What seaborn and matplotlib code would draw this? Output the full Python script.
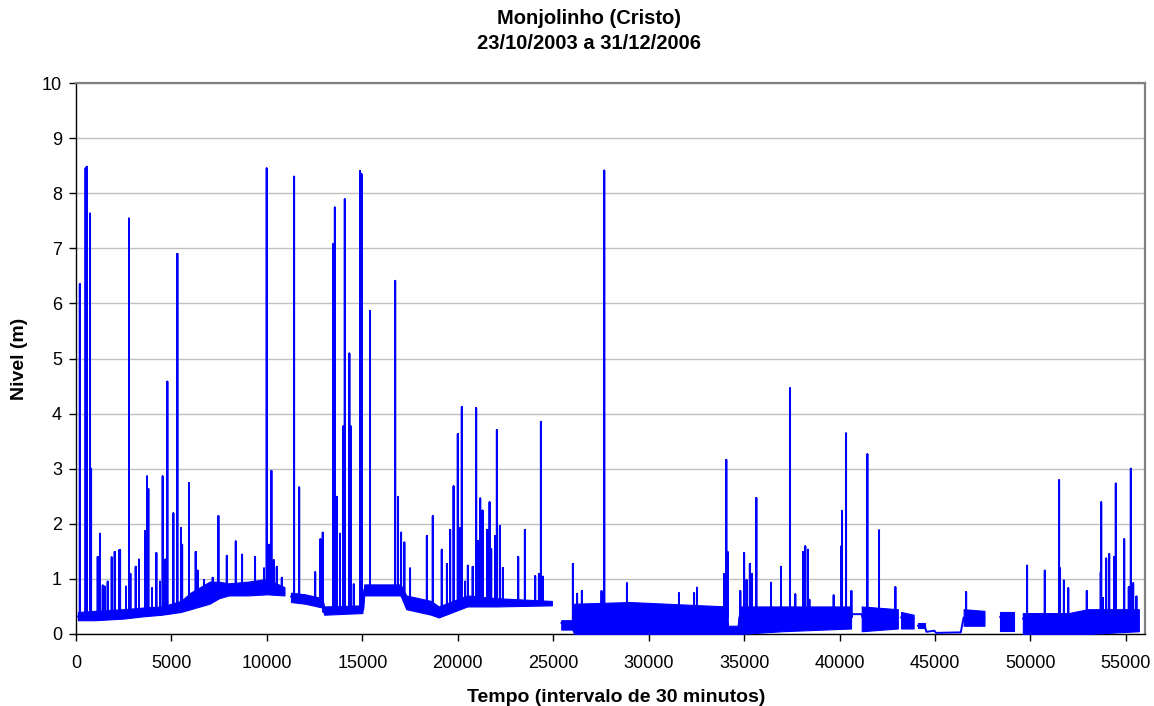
import numpy as np
import pandas as pd
import matplotlib
matplotlib.use("Agg")
import matplotlib.pyplot as plt
import seaborn as sns

# ---------------- data ----------------
# baseline knots of each continuous record (x = time step, y = level in m)
base1_x = [100, 2500, 3500, 4500, 5500, 6000, 6500, 7000, 7500, 8000, 9000, 10000, 10920]
base1_y = [0.32, 0.35, 0.38, 0.42, 0.48, 0.55, 0.65, 0.70, 0.78, 0.80, 0.80, 0.85, 0.75]
base2_x = [11260, 12000, 12900, 12950, 13000, 15000, 15050, 15100, 17000, 17300, 18600, 19000, 20000, 20500, 22000, 24930]
base2_y = [0.68, 0.65, 0.55, 0.40, 0.42, 0.45, 0.45, 0.80, 0.80, 0.60, 0.45, 0.40, 0.55, 0.60, 0.58, 0.56]
base3_x = [25420, 26000, 26100, 34100, 34150, 34700, 34750, 40600, 40650, 41160, 41200, 43050]
base3_y = [0.20, 0.20, 0.30, 0.30, 0.08, 0.08, 0.30, 0.30, 0.36, 0.36, 0.30, 0.30]
base4_x = [43220, 43880]
base4_y = [0.30, 0.28]
base5_x = [44100, 44460, 44550, 44970, 45050, 46350, 46500, 47590]
base5_y = [0.15, 0.15, 0.04, 0.06, 0.02, 0.03, 0.30, 0.30]
base6_x = [48430, 49120]
base6_y = [0.30, 0.30]
base7_x = [49600, 53000, 55677]
base7_y = [0.28, 0.30, 0.27]

# flood spikes: position, foot level and peak level
spike_x = [200, 500, 560, 734, 790, 1136, 1258, 1400, 1503, 1660, 1870, 2027, 2270, 2310, 2620, 2777, 2850, 3127,
           3300, 3616, 3720, 3790, 3983, 4210, 4400, 4540, 4680, 4786, 5100, 5310, 5500, 5560, 5920, 6270, 6375,
           6710, 7160, 7460, 7900, 8370, 8700, 9380, 9850, 9990, 10114, 10237, 10360, 10516, 10780,
           11425, 11690, 12530, 12800, 12925, 13480, 13560, 13660, 13830, 14010, 14080, 14320, 14390, 14550, 14880,
           14920, 14970, 15400, 16720, 16870, 17030, 17200, 17500, 18380, 18690, 19160, 19430, 19600, 19780, 20000,
           20100, 20210, 20380, 20527, 20780, 20963, 21050, 21175, 21297, 21540, 21664, 21750, 21960, 22047, 22205,
           22362, 23165, 23514, 24055, 24250, 24354, 24460,
           26030, 26250, 26500, 27530, 27672, 28861, 31586, 32380, 32530, 33962, 34067, 34130, 34800, 35000, 35130,
           35300, 35400, 35640, 36410, 36930, 37405, 37680, 38083, 38205, 38345, 38420, 39690, 40090, 40130, 40340,
           40620, 41456, 42068, 42924,
           46630,
           49823, 50750, 51500, 51550, 51750, 51980, 52950, 53680, 53705, 53800, 53966, 54124, 54380, 54470, 54910,
           55150, 55257, 55380, 55550]
spike_base = [0.32, 0.32, 0.32, 0.32, 0.32, 0.32, 0.32, 0.32, 0.32, 0.32, 0.33, 0.33, 0.34, 0.34, 0.35, 0.35, 0.35, 0.36,
              0.37, 0.38, 0.38, 0.38, 0.39, 0.40, 0.41, 0.42, 0.43, 0.43, 0.45, 0.46, 0.48, 0.48, 0.53, 0.58, 0.59,
              0.63, 0.67, 0.71, 0.75, 0.79, 0.80, 0.80, 0.80, 0.80, 0.83, 0.82, 0.81, 0.80, 0.77,
              0.68, 0.67, 0.60, 0.57, 0.55, 0.42, 0.42, 0.42, 0.43, 0.43, 0.43, 0.44, 0.44, 0.44, 0.45,
              0.45, 0.45, 0.80, 0.80, 0.80, 0.79, 0.62, 0.60, 0.49, 0.46, 0.41, 0.43, 0.44, 0.46, 0.55,
              0.56, 0.57, 0.59, 0.60, 0.60, 0.60, 0.60, 0.60, 0.60, 0.60, 0.60, 0.60, 0.59, 0.59, 0.59,
              0.59, 0.58, 0.57, 0.57, 0.56, 0.56, 0.56,
              0.21, 0.30, 0.30, 0.30, 0.30, 0.30, 0.30, 0.30, 0.30, 0.30, 0.30, 0.30, 0.30, 0.30, 0.30,
              0.30, 0.30, 0.30, 0.30, 0.30, 0.30, 0.30, 0.30, 0.30, 0.30, 0.30, 0.30, 0.30, 0.30, 0.30,
              0.30, 0.30, 0.30, 0.30,
              0.30,
              0.28, 0.29, 0.29, 0.29, 0.29, 0.29, 0.30, 0.30, 0.30, 0.30, 0.30, 0.29, 0.29, 0.29, 0.28,
              0.28, 0.28, 0.28, 0.27]
spike_peak = [6.35, 8.45, 8.48, 7.63, 3.00, 1.40, 1.82, 0.88, 0.86, 0.95, 1.39, 1.49, 1.52, 1.52, 0.86, 7.54, 1.09, 1.22,
              1.35, 1.87, 2.86, 2.63, 0.83, 1.47, 0.95, 2.86, 1.35, 4.58, 2.19, 6.90, 1.92, 1.62, 2.74, 1.49, 1.15,
              0.98, 1.02, 2.14, 1.42, 1.68, 1.44, 1.40, 1.19, 8.45, 1.62, 2.96, 1.34, 1.22, 1.02,
              8.30, 2.66, 1.12, 1.72, 1.84, 7.08, 7.74, 2.49, 1.82, 3.77, 7.89, 5.09, 3.77, 0.90, 8.40,
              8.35, 8.34, 5.86, 6.41, 2.49, 1.84, 1.66, 1.19, 1.78, 2.14, 1.53, 1.27, 1.89, 2.68, 3.63,
              1.92, 4.12, 0.95, 1.24, 1.22, 4.10, 1.69, 2.46, 2.24, 1.89, 2.39, 1.54, 1.78, 3.70, 1.96,
              1.20, 1.40, 1.89, 1.05, 1.09, 3.85, 1.04,
              1.27, 0.73, 0.78, 0.78, 8.41, 0.92, 0.74, 0.74, 0.84, 1.09, 3.16, 1.49, 0.78, 1.47, 0.98,
              1.27, 1.09, 2.47, 0.93, 1.22, 4.46, 0.72, 1.49, 1.59, 1.53, 0.62, 0.70, 1.59, 2.23, 3.64,
              0.78, 3.26, 1.88, 0.85,
              0.76,
              1.24, 1.15, 2.79, 1.19, 0.97, 0.83, 0.78, 1.12, 2.39, 0.65, 1.37, 1.45, 1.40, 2.73, 1.72,
              0.85, 3.00, 0.92, 0.68]

# envelope of the dense fluctuation band (x, lower, upper), one list per block
band1_x = [100, 1000, 2500, 3500, 4500, 5500, 6000, 6500, 7000, 7500, 8000, 9000, 10000, 10920]
band1_lo = [0.25, 0.25, 0.28, 0.32, 0.35, 0.40, 0.45, 0.50, 0.55, 0.65, 0.70, 0.70, 0.72, 0.70]
band1_hi = [0.40, 0.42, 0.45, 0.48, 0.50, 0.60, 0.75, 0.85, 0.95, 0.95, 0.92, 0.95, 1.00, 0.85]
band2_x = [11260, 12000, 12900, 13000, 15000, 15100, 17000, 17300, 18600, 19000, 20500, 22000, 24930]
band2_lo = [0.58, 0.55, 0.48, 0.35, 0.38, 0.70, 0.70, 0.45, 0.35, 0.30, 0.50, 0.50, 0.52]
band2_hi = [0.75, 0.72, 0.65, 0.50, 0.52, 0.90, 0.90, 0.70, 0.60, 0.50, 0.70, 0.65, 0.60]
band3_x = [25420, 26000, 26100, 29000, 34100, 34150, 34700, 34750, 37000, 40600]
band3_lo = [0.08, 0.08, 0.00, 0.00, 0.00, 0.00, 0.00, 0.00, 0.05, 0.10]
band3_hi = [0.25, 0.25, 0.55, 0.58, 0.50, 0.15, 0.15, 0.50, 0.50, 0.50]
band4_x = [41160, 43050]
band4_lo = [0.05, 0.10]
band4_hi = [0.50, 0.45]
band5_x = [43220, 43880]
band5_lo = [0.10, 0.10]
band5_hi = [0.40, 0.35]
band6_x = [44100, 44460]
band6_lo = [0.10, 0.10]
band6_hi = [0.20, 0.20]
band7_x = [46500, 47590]
band7_lo = [0.15, 0.15]
band7_hi = [0.45, 0.42]
band8_x = [48430, 49120]
band8_lo = [0.05, 0.05]
band8_hi = [0.40, 0.40]
band9_x = [49600, 52000, 53000, 55677]
band9_lo = [0.00, 0.00, 0.00, 0.05]
band9_hi = [0.38, 0.38, 0.45, 0.45]

x_ticks = [0, 5000, 10000, 15000, 20000, 25000, 30000, 35000, 40000, 45000, 50000, 55000]
y_ticks = list(range(0, 11))

title = "Monjolinho (Cristo)\n23/10/2003 a 31/12/2006"
xlabel = "Tempo (intervalo de 30 minutos)"
ylabel = "Nivel (m)"

# ---------------- build table ----------------
bases = [(base1_x, base1_y), (base2_x, base2_y), (base3_x, base3_y), (base4_x, base4_y),
         (base5_x, base5_y), (base6_x, base6_y), (base7_x, base7_y)]
sx_all = np.array(spike_x)
sb_all = np.array(spike_base)
sp_all = np.array(spike_peak)
frames = []
for i, (bx, by) in enumerate(bases):
    pts = [(x, 0, y) for x, y in zip(bx, by)]
    m = (sx_all >= bx[0]) & (sx_all <= bx[-1])
    for x, b, p in zip(sx_all[m], sb_all[m], sp_all[m]):
        pts += [(x, 1, b), (x, 2, p), (x, 3, b)]
    pts.sort(key=lambda t: (t[0], t[1]))
    frames.append(pd.DataFrame({"tempo": [t[0] for t in pts], "nivel": [t[2] for t in pts], "seg": i}))
df = pd.concat(frames, ignore_index=True)

bands = [(band1_x, band1_lo, band1_hi), (band2_x, band2_lo, band2_hi), (band3_x, band3_lo, band3_hi),
         (band4_x, band4_lo, band4_hi), (band5_x, band5_lo, band5_hi), (band6_x, band6_lo, band6_hi),
         (band7_x, band7_lo, band7_hi), (band8_x, band8_lo, band8_hi), (band9_x, band9_lo, band9_hi)]

# ---------------- draw ----------------
sns.set_theme(style="white")
plt.rcParams["font.family"] = ["Liberation Sans", "DejaVu Sans"]
plt.rcParams["text.color"] = "black"
plt.rcParams["axes.labelcolor"] = "black"
plt.rcParams["xtick.color"] = "black"
plt.rcParams["ytick.color"] = "black"

fig = plt.figure(figsize=(11.54, 7.06), dpi=100)
ax = fig.add_axes([76 / 1154, 1 - 634 / 706, (1145 - 76) / 1154, (634 - 83) / 706])

blue = "#0000FF"
for bx, blo, bhi in bands:
    ax.fill_between(bx, blo, bhi, color=blue, linewidth=0.8, edgecolor=blue, zorder=3)

sns.lineplot(data=df, x="tempo", y="nivel", units="seg", estimator=None, sort=False,
             color=blue, linewidth=1.4, ax=ax, zorder=4, legend=False)

ax.set_xlim(0, 56000)
ax.set_ylim(0, 10)
ax.set_xticks(x_ticks)
ax.set_yticks(y_ticks)
ax.set_xticklabels([str(v) for v in x_ticks], fontsize=13, color="black")
ax.set_yticklabels([str(v) for v in y_ticks], fontsize=13, color="black")
ax.grid(axis="y", color="#C0C0C0", linewidth=1.0, zorder=0)
ax.set_axisbelow(True)

for side in ["top", "right"]:
    ax.spines[side].set_color("#808080")
    ax.spines[side].set_linewidth(1.6)
for side in ["left", "bottom"]:
    ax.spines[side].set_color("#000000")
    ax.spines[side].set_linewidth(1.0)

ax.tick_params(axis="both", direction="out", length=5, width=1, color="black",
               bottom=True, left=True)
ax.tick_params(axis="x", pad=10)
ax.tick_params(axis="y", pad=5)

ax.set_xlabel(xlabel, fontsize=14, fontweight="bold", labelpad=12, color="black")
ax.xaxis.label.set_x((616 - 76) / (1145 - 76))
ax.set_ylabel(ylabel, fontsize=14, fontweight="bold", labelpad=10, color="black")
fig.text(589 / 1154, 1 - 31 / 706, title, ha="center", va="center", color="black",
         fontsize=14.5, fontweight="bold", linespacing=1.45)

fig.savefig("out.png", dpi=100)
